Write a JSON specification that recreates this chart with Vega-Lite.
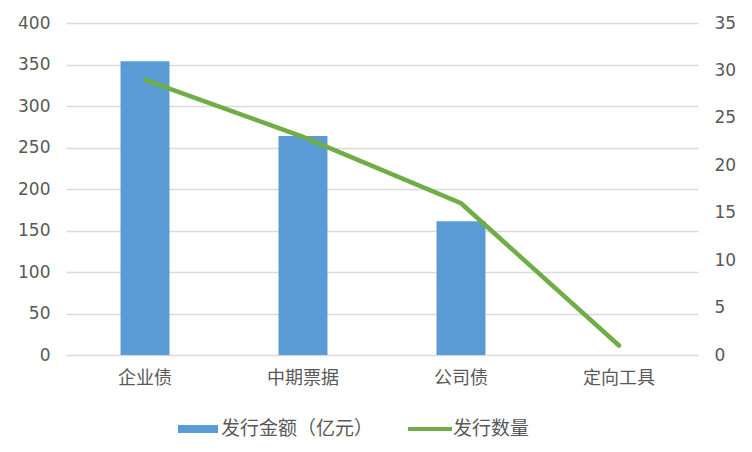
{
  "$schema": "https://vega.github.io/schema/vega-lite/v6.json",
  "width": 632,
  "height": 332,
  "autosize": "none",
  "padding": {"left": 66, "top": 23, "right": 54, "bottom": 97},
  "background": "white",
  "config": {
    "view": {"stroke": null},
    "axis": {"labelColor": "#595959", "domain": false, "ticks": false, "title": null},
    "legend": {"labelColor": "#595959", "labelFont": "Noto Sans CJK SC", "labelFontSize": 19}
  },
  "data": {
    "values": [
      {"cat": "企业债", "amount": 354, "count": 29},
      {"cat": "中期票据", "amount": 264, "count": 23},
      {"cat": "公司债", "amount": 161, "count": 16},
      {"cat": "定向工具", "amount": 0, "count": 1}
    ]
  },
  "encoding": {
    "x": {
      "field": "cat", "type": "nominal", "sort": null,
      "scale": {"paddingInner": 0.69, "paddingOuter": 0.345},
      "axis": {"labelAngle": 0, "labelFont": "Noto Sans CJK SC", "labelFontSize": 18, "labelPadding": 14, "grid": false}
    }
  },
  "layer": [
    {
      "mark": {"type": "bar", "color": "#5b9bd5"},
      "encoding": {
        "y": {
          "field": "amount", "type": "quantitative",
          "scale": {"domain": [0, 400]},
          "axis": {"values": [0, 50, 100, 150, 200, 250, 300, 350, 400], "grid": true, "gridColor": "#d9d9d9", "gridWidth": 1.3, "labelFont": "DejaVu Sans", "labelFontSize": 17, "labelPadding": 16, "labelFlush": false}
        },
        "color": {
          "datum": "发行金额（亿元）", "type": "nominal",
          "scale": {"domain": ["发行金额（亿元）", "发行数量"], "range": ["#5b9bd5", "#70ad47"]},
          "legend": {
            "orient": "none", "legendX": 112, "legendY": 386, "direction": "horizontal", "title": null,
            "columnPadding": 34, "labelOffset": 3,
            "symbolType": "M-1,-0.2H1V0.2H-1Z", "symbolSize": 1600, "symbolStrokeWidth": 0,
            "encode": {"symbols": {"update": {
              "shape": {"signal": "datum.value === '发行数量' ? 'M-1.1,-0.1H1.1V0.1H-1.1Z' : 'M-1,-0.2H1V0.2H-1Z'"},
              "fill": {"signal": "datum.value === '发行数量' ? '#70ad47' : '#5b9bd5'"},
              "strokeWidth": {"value": 0}
            }}}
          }
        }
      }
    },
    {
      "mark": {"type": "line", "color": "#70ad47", "strokeWidth": 4.5, "strokeCap": "round"},
      "encoding": {
        "y": {
          "field": "count", "type": "quantitative",
          "scale": {"domain": [0, 35]},
          "axis": {"orient": "right", "values": [0, 5, 10, 15, 20, 25, 30, 35], "grid": false, "labelFont": "DejaVu Sans", "labelFontSize": 17, "labelPadding": 16, "labelFlush": false}
        },
        "color": {"datum": "发行数量", "type": "nominal"}
      }
    }
  ],
  "resolve": {"scale": {"y": "independent"}}
}
